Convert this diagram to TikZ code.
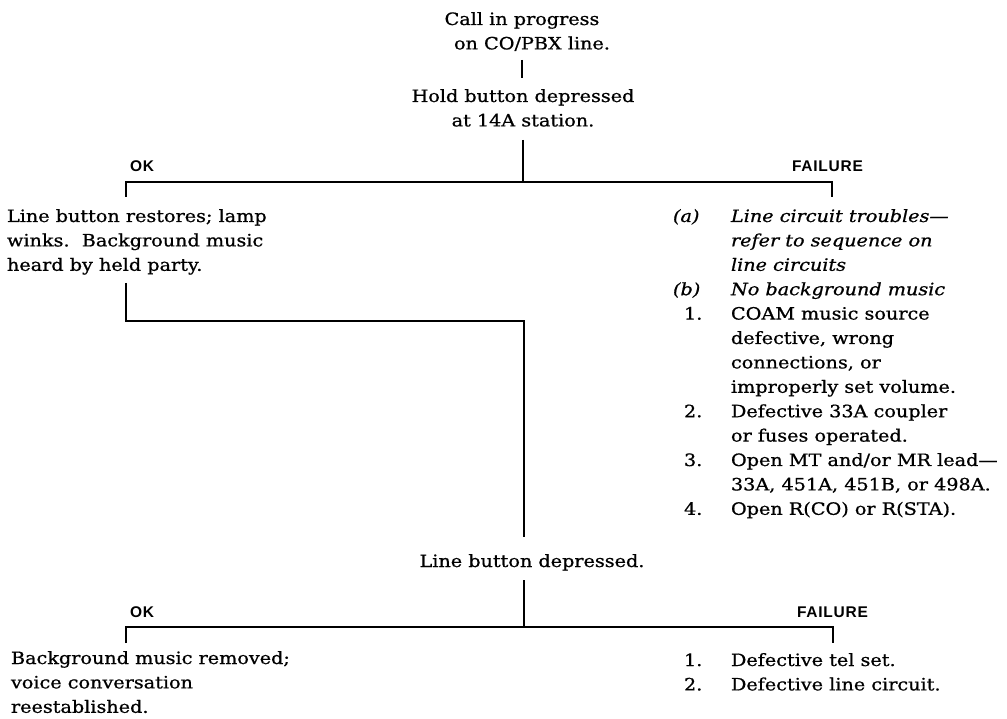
\documentclass[tikz,border=0pt]{standalone}
\usepackage{fontspec}
\setmainfont[FakeStretch=1.13, FakeBold=0.8]{DejaVu Serif}
\newfontfamily\lblfont[LetterSpace=5]{Liberation Sans}

\begin{document}
\begin{tikzpicture}[x=1pt, y=-1pt,
  txt/.style={inner sep=0pt, outer sep=0pt, font=\fontsize{17}{24.4}\selectfont},
  lbl/.style={inner sep=0pt, outer sep=0pt, anchor=base west,
              font=\lblfont\bfseries\fontsize{15.5}{18}\selectfont},
  wire/.style={draw, line width=1.8pt, line cap=butt, line join=miter}]
\useasboundingbox (0,0) rectangle (1007,719);

% --- top of the sequence ---
\node[txt, anchor=base] (call) at (522,25)
  {\begin{tabular}[t]{@{}c@{}}Call in progress\\\hspace*{20pt}on CO/PBX line.\end{tabular}};
\node[txt, anchor=base] (hold) at (523,102)
  {\begin{tabular}[t]{@{}c@{}}Hold button depressed\\at 14A station.\end{tabular}};

% --- first branch ---
\node[lbl] (okA) at (130,172) {OK};
\node[lbl] (failA) at (792,172) {FAILURE};

\node[txt, anchor=base west] (ok1) at (7,222)
  {\begin{tabular}[t]{@{}l@{}}Line button restores; lamp\\
   winks.\ \ Background music\\ heard by held party.\end{tabular}};

\node[txt, anchor=base west] (fail1) at (673,222)
  {\begin{tabular}[t]{@{}p{58pt}@{}l@{}}
   \itshape (a) & \itshape Line circuit troubles—\\
                & \itshape refer to sequence on\\
                & \itshape line circuits\\
   \itshape (b) & \itshape No background music\\
   \hspace*{11pt}1. & COAM music source\\
                & defective, wrong\\
                & connections, or\\
                & improperly set volume.\\
   \hspace*{11pt}2. & Defective 33A coupler\\
                & or fuses operated.\\
   \hspace*{11pt}3. & Open MT and/or MR lead—\\
                & 33A, 451A, 451B, or 498A.\\
   \hspace*{11pt}4. & Open R(CO) or R(STA).
   \end{tabular}};

% --- second branch ---
\node[txt, anchor=base] (lbd) at (532,567) {Line button depressed.};

\node[lbl] (okB) at (130,617) {OK};
\node[lbl] (failB) at (797,617) {FAILURE};

\node[txt, anchor=base west] (ok2) at (11,664)
  {\begin{tabular}[t]{@{}l@{}}Background music removed;\\
   voice conversation\\ reestablished.\end{tabular}};

\node[txt, anchor=base west] (fail2) at (673,666)
  {\begin{tabular}[t]{@{}p{58pt}@{}l@{}}
   \hspace*{11pt}1. & Defective tel set.\\
   \hspace*{11pt}2. & Defective line circuit.
   \end{tabular}};

% --- connector points ---
\coordinate (c0) at (522,60);
\coordinate (c1) at (522,78);
\coordinate (h0) at (523,140);
\coordinate (j1) at (523,182);
\coordinate (b1L) at (126,182);
\coordinate (b1R) at (832,182);
\coordinate (m0) at (126,283);
\coordinate (m1) at (126,321);
\coordinate (m2) at (524,321);
\coordinate (m3) at (524,537);
\coordinate (d0) at (524,580);
\coordinate (j2) at (524,627);
\coordinate (b2L) at (126,627);
\coordinate (b2R) at (833,627);

% --- connectors ---
\path[wire] (c0) -- (c1);
\path[wire] (h0) -- (j1);
\path[wire] (b1L) ++(0,15) -- (b1L) -- (b1R) -- ++(0,15);
\path[wire] (m0) -- (m1) -- (m2) -- (m3);
\path[wire] (d0) -- (j2);
\path[wire] (b2L) ++(0,16) -- (b2L) -- (b2R) -- ++(0,16);
\end{tikzpicture}
\end{document}
